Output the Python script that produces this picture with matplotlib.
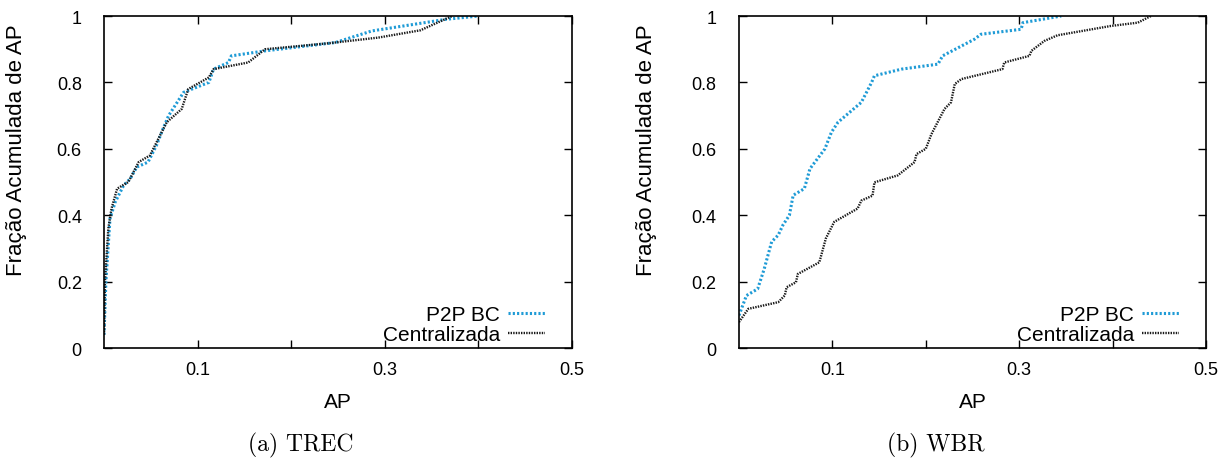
"""Cumulative AP fraction, P2P BC vs Centralizada, for TREC and WBR."""

import matplotlib

matplotlib.use("Agg")
import matplotlib.pyplot as plt
from matplotlib.ticker import FixedLocator, FuncFormatter

# values
trec_p2p_x = [0.0, 0.002, 0.0064, 0.012, 0.021, 0.028, 0.035, 0.047, 0.056, 0.063,
              0.069, 0.085, 0.112, 0.117, 0.133, 0.136, 0.172, 0.247, 0.286, 0.365, 0.40]
trec_p2p_y = [0.04, 0.20, 0.39, 0.44, 0.49, 0.51, 0.545, 0.56, 0.61, 0.66,
              0.70, 0.77, 0.80, 0.84, 0.86, 0.88, 0.895, 0.92, 0.955, 0.99, 1.0]
trec_cen_x = [0.0, 0.001, 0.0046, 0.008, 0.014, 0.026, 0.037, 0.049, 0.067, 0.083,
              0.09, 0.112, 0.117, 0.154, 0.172, 0.24, 0.293, 0.338, 0.372]
trec_cen_y = [0.04, 0.20, 0.36, 0.42, 0.48, 0.50, 0.56, 0.58, 0.68, 0.72,
              0.78, 0.815, 0.84, 0.86, 0.90, 0.918, 0.935, 0.957, 1.0]

wbr_p2p_x = [0.0, 0.004, 0.008, 0.02, 0.027, 0.035, 0.042, 0.047, 0.054, 0.058,
             0.07, 0.076, 0.092, 0.099, 0.106, 0.131, 0.142, 0.145, 0.174, 0.213,
             0.218, 0.252, 0.259, 0.302, 0.304, 0.345]
wbr_p2p_y = [0.098, 0.128, 0.158, 0.178, 0.238, 0.32, 0.34, 0.37, 0.40, 0.46,
             0.48, 0.54, 0.60, 0.65, 0.68, 0.74, 0.80, 0.82, 0.84, 0.855,
             0.88, 0.93, 0.945, 0.96, 0.98, 1.0]
wbr_cen_x = [0.0, 0.01, 0.042, 0.049, 0.051, 0.061, 0.063, 0.086, 0.093, 0.102,
             0.127, 0.131, 0.143, 0.145, 0.17, 0.188, 0.19, 0.2, 0.206, 0.22,
             0.227, 0.231, 0.238, 0.282, 0.284, 0.311, 0.313, 0.327, 0.341, 0.398,
             0.427, 0.441]
wbr_cen_y = [0.078, 0.118, 0.138, 0.158, 0.183, 0.198, 0.223, 0.258, 0.33, 0.38,
             0.42, 0.444, 0.459, 0.499, 0.52, 0.56, 0.584, 0.60, 0.644, 0.72,
             0.74, 0.795, 0.81, 0.84, 0.86, 0.88, 0.895, 0.925, 0.942, 0.97,
             0.98, 1.0]

series_labels = ["P2P BC", "Centralizada"]
captions = ["(a) TREC", "(b) WBR"]
x_ticks = [0.1, 0.3, 0.5]
x_minor = [0.2, 0.4]
y_ticks = [0, 0.2, 0.4, 0.6, 0.8, 1.0]

SANS = "Liberation Sans"
BLUE = "#1f9bd6"


def style_axes(ax, ylab_x):
    ax.set_xlim(0, 0.5)
    ax.set_ylim(0, 1)
    ax.xaxis.set_major_locator(FixedLocator(x_ticks))
    ax.xaxis.set_minor_locator(FixedLocator(x_minor))
    ax.yaxis.set_major_locator(FixedLocator(y_ticks))
    ax.xaxis.set_major_formatter(FuncFormatter(lambda v, _: f"{v:g}"))
    ax.yaxis.set_major_formatter(FuncFormatter(lambda v, _: f"{v:g}"))
    ax.tick_params(which="both", direction="in", top=True, right=True,
                   length=6, width=1, labelsize=13)
    ax.tick_params(axis="x", pad=9)
    ax.tick_params(axis="y", pad=16)
    for lab in ax.get_xticklabels() + ax.get_yticklabels():
        lab.set_family(SANS)
    for spine in ax.spines.values():
        spine.set_linewidth(1.2)
    ax.set_xlabel("AP", family=SANS, fontsize=15)
    ax.xaxis.set_label_coords(0.5, -0.133)
    ax.set_ylabel("Fração Acumulada de AP", family=SANS, fontsize=16)
    ax.yaxis.set_label_coords(ylab_x, 0.60)


fig = plt.figure(figsize=(12.31, 4.60), dpi=100)
ax_a = fig.add_axes([0.0845, 0.2413, 0.3802, 0.7217])
ax_b = fig.add_axes([0.6003, 0.2413, 0.3794, 0.7217])

panels = [
    (ax_a, trec_p2p_x, trec_p2p_y, trec_cen_x, trec_cen_y, -0.165),
    (ax_b, wbr_p2p_x, wbr_p2p_y, wbr_cen_x, wbr_cen_y, -0.176),
]
for ax, px, py, cx, cy, ylab_x in panels:
    ax.plot(px, py, color=BLUE, lw=2.2, linestyle=(0, (0.7, 0.7)),
            label=series_labels[0])
    ax.plot(cx, cy, color="#1a1a1a", lw=1.7, linestyle=(0, (0.6, 0.5)),
            label=series_labels[1])
    style_axes(ax, ylab_x)
    ax.legend(loc="lower right", bbox_to_anchor=(0.942, 0.012), frameon=False,
              markerfirst=False, handlelength=1.76, handletextpad=0.4,
              labelspacing=0.05, borderpad=0.0, borderaxespad=0.0,
              prop={"family": SANS, "size": 15})

for ax, cap in zip([ax_a, ax_b], captions):
    bb = ax.get_position()
    fig.text((bb.x0 + bb.x1) / 2 - 0.03, 0.032, cap, ha="center", va="center",
             family="cmr10", fontsize=17)

fig.savefig("out.png", dpi=100)
